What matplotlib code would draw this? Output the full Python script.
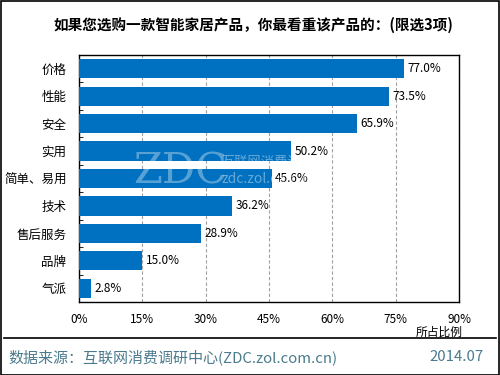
import numpy as np
import matplotlib
matplotlib.use("Agg")
import matplotlib.pyplot as plt
from matplotlib.patches import Rectangle

plt.rcParams['font.family'] = ['Noto Sans CJK SC', 'DejaVu Sans']

# data
categories = ['价格', '性能', '安全', '实用', '简单、易用', '技术', '售后服务', '品牌', '气派']
values = [77.0, 73.5, 65.9, 50.2, 45.6, 36.2, 28.9, 15.0, 2.8]
xticks = [0, 15, 30, 45, 60, 75, 90]
title = '如果您选购一款智能家居产品，你最看重该产品的：(限选3项)'
source = '数据来源：互联网消费调研中心(ZDC.zol.com.cn)'
date = '2014.07'

fig = plt.figure(figsize=(5, 3.75), dpi=100)
W, H = 500, 375
ax = fig.add_axes([79 / W, 1 - 302 / H, 380 / W, 247 / H])

y = np.arange(len(categories))
ax.barh(y, values, height=0.7, color='#0070C0', zorder=3)
for yi, v in zip(y, values):
    ax.text(v + 0.8, yi, f'{v:.1f}%', va='center', ha='left', fontsize=8.5, zorder=4)

ax.set_xlim(0, 90)
ax.set_ylim(len(categories) - 0.5, -0.5)
ax.set_xticks(xticks)
ax.set_xticklabels([f'{t}%' for t in xticks], fontsize=8.5)
ax.set_yticks(y)
ax.set_yticklabels(categories, fontsize=9)
ax.tick_params(axis='y', length=0, pad=9)
ax.tick_params(axis='x', length=0, pad=8)
# small ticks between categories
ax.set_yticks(np.arange(len(categories) + 1) - 0.5, minor=True)
ax.tick_params(axis='y', which='minor', direction='in', length=3)
ax.set_xticks(xticks, minor=True)
ax.tick_params(axis='x', which='minor', direction='in', length=3)
ax.grid(axis='x', linestyle=(0, (3, 2)), color='#a0a0a0', linewidth=0.8, zorder=0)
for s in ax.spines.values():
    s.set_linewidth(1.0)

# watermark
fig.text(133 / W, 1 - 172 / H, 'ZDC', fontsize=30, family='DejaVu Serif', color='white', alpha=0.35, ha='left', va='center')
fig.text(221 / W, 1 - 162 / H, '互联网消费调研中心', fontsize=9.5, color='white', alpha=0.4, ha='left', va='center')
fig.text(221 / W, 1 - 179 / H, 'zdc.zol.com.cn', fontsize=10, color='white', alpha=0.4, ha='left', va='center')

fig.text(253 / W, 1 - 25 / H, title, fontsize=10.5, fontweight='bold', ha='center', va='center')
fig.text(463 / W, 1 - 332 / H, '所占比例', fontsize=8.5, ha='right', va='center')
fig.add_artist(plt.Line2D([4 / W, 496 / W], [1 - 338 / H, 1 - 338 / H], color='black', linewidth=1.2))
fig.text(8 / W, 1 - 357 / H, source, fontsize=10.8, color='#4A7A8C', ha='left', va='center')
fig.text(484 / W, 1 - 357 / H, date, fontsize=10.8, color='#4A7A8C', ha='right', va='center')
fig.add_artist(Rectangle((0.001, 0.001), 0.997, 0.997, transform=fig.transFigure,
                         fill=False, edgecolor='black', linewidth=1.2))

fig.savefig('out.png', dpi=100)
